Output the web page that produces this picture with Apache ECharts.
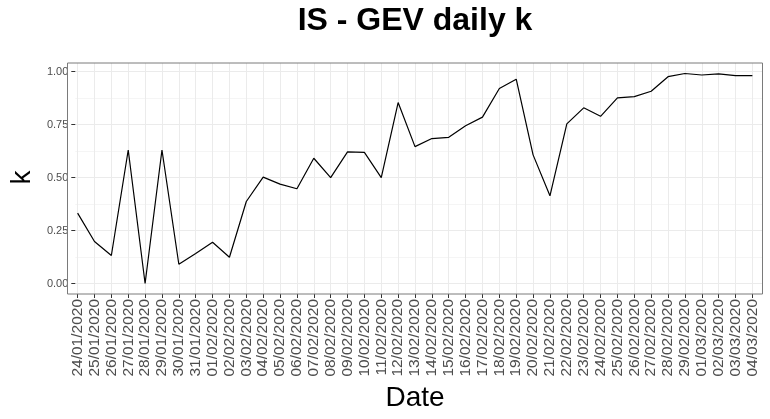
<!DOCTYPE html>
<html>
<head>
<meta charset="utf-8">
<script src="https://cdn.jsdelivr.net/npm/echarts@6/dist/echarts.min.js"></script>
<style>html,body{margin:0;padding:0;background:#fff}#c{width:770px;height:419px}</style>
</head>
<body>
<div id="c"></div>
<script>
const dates = ["24/01/2020","25/01/2020","26/01/2020","27/01/2020","28/01/2020","29/01/2020","30/01/2020","31/01/2020",
"01/02/2020","02/02/2020","03/02/2020","04/02/2020","05/02/2020","06/02/2020","07/02/2020","08/02/2020","09/02/2020",
"10/02/2020","11/02/2020","12/02/2020","13/02/2020","14/02/2020","15/02/2020","16/02/2020","17/02/2020","18/02/2020",
"19/02/2020","20/02/2020","21/02/2020","22/02/2020","23/02/2020","24/02/2020","25/02/2020","26/02/2020","27/02/2020",
"28/02/2020","29/02/2020","01/03/2020","02/03/2020","03/03/2020","04/03/2020"];
const kValues = [0.332,0.198,0.132,0.630,0.000,0.630,0.091,0.142,
0.195,0.124,0.387,0.502,0.469,0.447,0.591,0.500,0.621,
0.619,0.500,0.854,0.646,0.684,0.690,0.744,0.785,0.920,
0.964,0.607,0.414,0.753,0.829,0.789,0.876,0.882,0.907,
0.976,0.991,0.984,0.989,0.981,0.981];
const yTicks = [0, 0.25, 0.5, 0.75, 1];

const dMin = Math.min(...kValues), dMax = Math.max(...kValues);
const pad = 0.05 * (dMax - dMin);
const yMin = dMin - pad, yMax = dMax + pad;

// panel geometry
const pTop = 63, pBot = 294, pLeft = 67.5, pRight = 762.5;
const H = pBot - pTop;
const W = pRight - pLeft;
const xExp = 0.6;
const step = W / (dates.length - 1 + 2 * xExp);
const tTop = pTop + (yMax - yTicks[yTicks.length - 1]) / (yMax - yMin) * H;
const tBot = pBot - (yTicks[0] - yMin) / (yMax - yMin) * H;

const chart = echarts.init(document.getElementById('c'), null, {renderer: 'canvas'});
const txt = '#4d4d4d';
chart.setOption({
  animation: false,
  backgroundColor: '#fff',
  title: {
    text: 'IS - GEV daily k',
    left: (pLeft + pRight) / 2 - 5,
    textAlign: 'center',
    top: 0,
    textStyle: {fontFamily: 'Liberation Sans', fontWeight: 'bold', fontSize: 32, color: '#000'}
  },
  grid: [
    {left: pLeft, top: pTop, width: W, height: H, show: true, borderColor: '#7a7a7a', borderWidth: 1, backgroundColor: 'transparent', z: 5},
    {left: pLeft, top: tTop, width: W, height: tBot - tTop, show: false},
    {left: pLeft + xExp * step, top: pTop, width: W - 2 * xExp * step, height: H, show: false}
  ],
  xAxis: [
    {gridIndex: 0, type: 'value', show: false},
    {gridIndex: 1, type: 'value', show: false, min: 0, max: 1},
    {
      gridIndex: 2, type: 'category', data: dates, boundaryGap: false, position: 'bottom',
      name: 'Date', nameLocation: 'middle', nameGap: 84,
      nameTextStyle: {fontFamily: 'Liberation Sans', fontSize: 28, color: '#000'},
      axisLine: {show: false, onZero: false},
      axisTick: {show: true, interval: 0, length: 4, lineStyle: {color: '#333'}},
      axisLabel: {interval: 0, rotate: 90, margin: 5, fontFamily: 'Liberation Sans', fontSize: 15.5, color: txt},
      splitLine: {show: true, interval: 0, lineStyle: {color: '#ebebeb', width: 1}}
    }
  ],
  yAxis: [
    {gridIndex: 0, type: 'value', show: false},
    {
      gridIndex: 1, type: 'value', min: yTicks[0], max: yTicks[yTicks.length - 1], interval: 0.25, position: 'left',
      name: 'k', nameLocation: 'middle', nameGap: 36, nameRotate: 90,
      nameTextStyle: {fontFamily: 'Liberation Sans', fontSize: 28, color: '#000'},
      axisLine: {show: false, onZero: false},
      axisTick: {show: true, length: 4, lineStyle: {color: '#333'}},
      axisLabel: {margin: 7, fontFamily: 'Liberation Sans', fontSize: 11, color: txt, formatter: v => v.toFixed(2)},
      splitLine: {show: true, lineStyle: {color: '#ebebeb', width: 1}},
      minorTick: {show: false, splitNumber: 2},
      minorSplitLine: {show: true, lineStyle: {color: '#f5f5f5', width: 1}}
    },
    {gridIndex: 2, type: 'value', min: yMin, max: yMax, show: false}
  ],
  series: [{
    type: 'line', xAxisIndex: 2, yAxisIndex: 2, data: kValues,
    showSymbol: false, symbol: 'none',
    lineStyle: {color: '#000', width: 1.2}, z: 10
  }]
});
</script>
</body>
</html>
